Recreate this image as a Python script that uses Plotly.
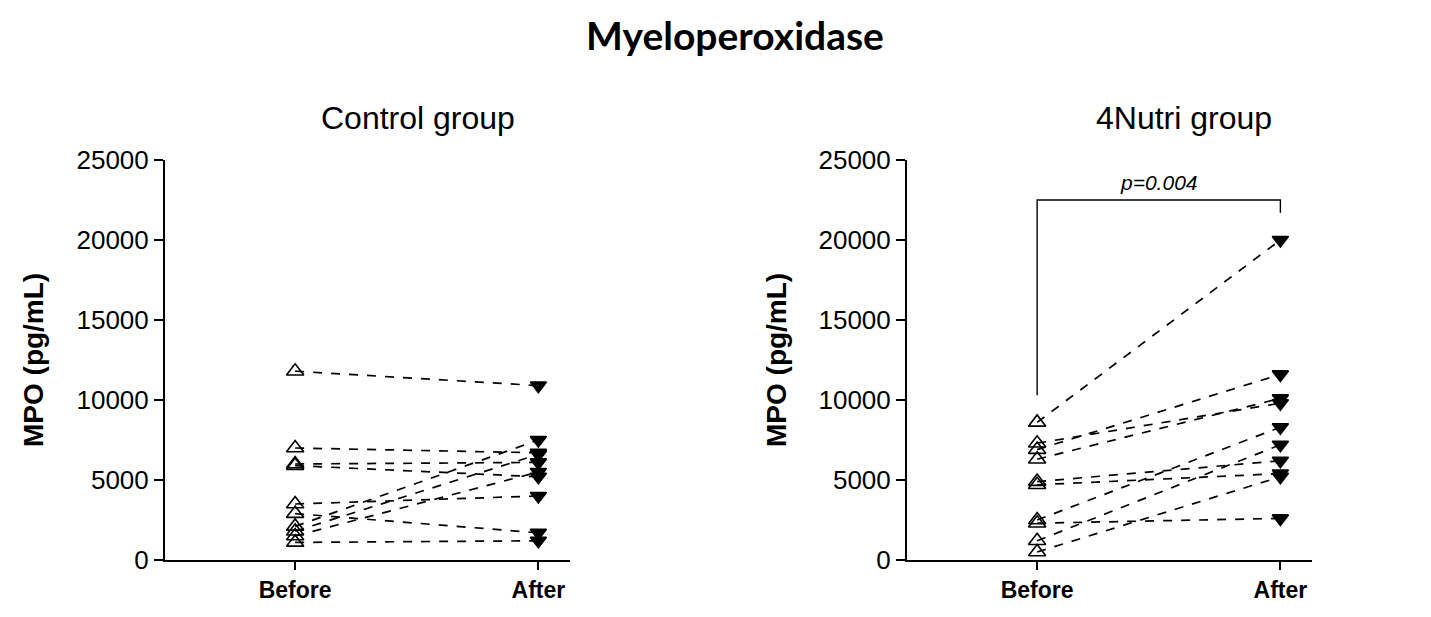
import plotly.graph_objects as go

W, H = 1431, 617
OFF = 8  # page body margin offset observed in the rendered page

time_labels = ["Before", "After"]
control_before = [11800, 7000, 6000, 5900, 3500, 2900, 2100, 1800, 1500, 1100]
control_after = [10900, 6700, 6100, 5200, 4000, 1700, 7500, 6600, 5500, 1200]
nutri_before = [8600, 7300, 6900, 6300, 4900, 4700, 2500, 2300, 1200, 500]
nutri_after = [20000, 9800, 11600, 10100, 6200, 5400, 8300, 2600, 7200, 5200]
y_ticks = [0, 5000, 10000, 15000, 20000, 25000]
y_tick_text = ["0", "5000", "10000", "15000", "20000", "25000"]
p_text = "p=0.004"

fig = go.Figure()

def add_pairs(before, after, xa, ya):
    for b, a in zip(before, after):
        fig.add_trace(go.Scatter(
            x=[0, 1], y=[b, a], mode="lines+markers",
            xaxis=xa, yaxis=ya, showlegend=False,
            line=dict(color="black", width=1.7, dash="dash"),
            marker=dict(symbol=["triangle-up-open", "triangle-down"], size=[15, 14],
                        color="black", opacity=1, line=dict(color="black", width=1.6)),
            cliponaxis=False,
        ))

add_pairs(control_before, control_after, "x", "y")
add_pairs(nutri_before, nutri_after, "x2", "y2")

# significance bracket on the 4Nutri panel
fig.add_trace(go.Scatter(
    x=[0, 0, 1, 1], y=[10300, 22500, 22500, 21700], mode="lines",
    xaxis="x2", yaxis="y2", showlegend=False, hoverinfo="skip",
    line=dict(color="black", width=1.4),
))

def px_x(p):
    return (p - OFF) / W

def px_y(p):
    return (H - (p - OFF)) / H

xr = [-0.535, 1.13]
axis_font = dict(family="Liberation Sans, Arial", size=26, color="black")
xcommon = dict(range=xr, tickvals=[0, 1], ticktext=time_labels, showline=True,
               linecolor="black", linewidth=2, ticks="outside", ticklen=8, tickwidth=2,
               tickcolor="black", showgrid=False, zeroline=False, automargin=False,
               tickfont=dict(family="Liberation Sans, Arial", size=23, color="black", weight="bold"))
ycommon = dict(range=[0, 25000], tickvals=y_ticks, ticktext=y_tick_text, showline=True,
               linecolor="black", automargin=False,
               linewidth=2, ticks="outside", ticklen=9, tickwidth=2, tickcolor="black",
               showgrid=False, zeroline=False, tickfont=axis_font)

fig.update_layout(
    width=W, height=H, margin=dict(l=0, r=0, t=0, b=0, autoexpand=False),
    paper_bgcolor="white", plot_bgcolor="white",
    xaxis=dict(domain=[px_x(165), px_x(570)], anchor="y", **xcommon),
    yaxis=dict(domain=[px_y(560), px_y(160)], anchor="x", **ycommon),
    xaxis2=dict(domain=[px_x(907), px_x(1312)], anchor="y2", **xcommon),
    yaxis2=dict(domain=[px_y(560), px_y(160)], anchor="x2", **ycommon),
)

annotations = [
    dict(text="<b>Myeloperoxidase</b>", x=px_x(735), y=px_y(35), xref="paper", yref="paper",
         showarrow=False, font=dict(family="Lato, Open Sans", size=39, color="black"),
         xanchor="center", yanchor="middle"),
    dict(text="Control group", x=px_x(418), y=px_y(118), xref="paper", yref="paper",
         showarrow=False, font=dict(family="Liberation Sans, Arial", size=32, color="black"),
         xanchor="center", yanchor="middle"),
    dict(text="4Nutri group", x=px_x(1184), y=px_y(118), xref="paper", yref="paper",
         showarrow=False, font=dict(family="Liberation Sans, Arial", size=32, color="black"),
         xanchor="center", yanchor="middle"),
    dict(text="<b>MPO (pg/mL)</b>", x=px_x(33), y=px_y(360), xref="paper", yref="paper",
         showarrow=False, textangle=-90,
         font=dict(family="Liberation Sans, Arial", size=28, color="black"),
         xanchor="center", yanchor="middle"),
    dict(text="<b>MPO (pg/mL)</b>", x=px_x(776), y=px_y(360), xref="paper", yref="paper",
         showarrow=False, textangle=-90,
         font=dict(family="Liberation Sans, Arial", size=28, color="black"),
         xanchor="center", yanchor="middle"),
    dict(text="<i>" + p_text + "</i>", x=0.5, y=22500, xref="x2", yref="y2",
         showarrow=False, yshift=18,
         font=dict(family="Liberation Sans, Arial", size=21, color="black"),
         xanchor="center", yanchor="middle"),
]
fig.update_layout(annotations=annotations)

fig.write_html("out.html")
